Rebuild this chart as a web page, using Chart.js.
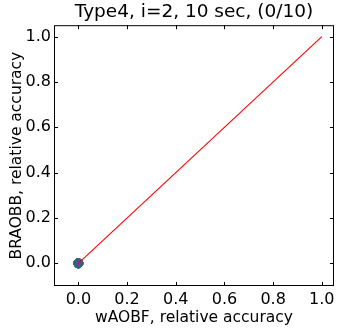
<!DOCTYPE html>
<html>
<head>
<meta charset="utf-8">
<script src="https://cdn.jsdelivr.net/npm/chart.js@4/dist/chart.umd.min.js"></script>
<style>
  html, body { margin: 0; padding: 0; background: #fff; }
  #wrap { width: 340px; height: 329px; }
</style>
</head>
<body>
<div id="wrap"><canvas id="c" width="340" height="329"></canvas></div>
<script>
// data
const TITLE = "Type4, i=2, 10 sec, (0/10)";
const X_LABEL = "wAOBF, relative accuracy";
const Y_LABEL = "BRAOBB, relative accuracy";
const TICKS = [0.0, 0.2, 0.4, 0.6, 0.8, 1.0];
// the ten runs all land on (0, 0)
const wAOBF = [0, 0, 0, 0, 0, 0, 0, 0, 0, 0];
const BRAOBB = [0, 0, 0, 0, 0, 0, 0, 0, 0, 0];
const RUN_COLORS = ["#8e2d8e", "#c0304a", "#3b3bb0", "#2a9d3a", "#1f4e9e",
                    "#d62728", "#7b3fa0", "#1a6e8e", "#0f8a5f", "#127a70"];
const DIAG_X = [0, 1];
const DIAG_Y = [0, 1];

(function () {
  "use strict";

  const FONT = "'DejaVu Sans', sans-serif";

  // matplotlib-style box: border round the plot and ticks pointing inward
  const boxPlugin = {
    id: "box",
    afterDatasetsDraw(chart) {
      const { ctx, chartArea: a, scales } = chart;
      ctx.save();
      ctx.strokeStyle = "#000";
      ctx.lineWidth = 1;
      ctx.strokeRect(a.left + 0.5, a.top + 0.5, a.right - a.left - 1, a.bottom - a.top - 1);
      const len = 4;
      ctx.beginPath();
      TICKS.forEach((v) => {
        const px = Math.round(scales.x.getPixelForValue(v)) + 0.5;
        ctx.moveTo(px, a.bottom); ctx.lineTo(px, a.bottom - len);
        ctx.moveTo(px, a.top); ctx.lineTo(px, a.top + len);
        const py = Math.round(scales.y.getPixelForValue(v)) + 0.5;
        ctx.moveTo(a.left, py); ctx.lineTo(a.left + len, py);
        ctx.moveTo(a.right, py); ctx.lineTo(a.right - len, py);
      });
      ctx.stroke();
      ctx.restore();
    },
  };

  const runPoints = wAOBF.map((x, i) => ({ x: x, y: BRAOBB[i] }));

  new Chart(document.getElementById("c"), {
    type: "scatter",
    data: {
      datasets: [
        {
          label: "diag",
          data: DIAG_X.map((x, i) => ({ x: x, y: DIAG_Y[i] })),
          showLine: true,
          borderColor: "#ff0000",
          borderWidth: 1.1,
          pointRadius: 0,
          order: 0,
        },
        {
          label: "runs",
          data: runPoints,
          pointStyle: "circle",
          pointRadius: 4.5,
          backgroundColor: "#17707a",
          pointBorderColor: RUN_COLORS,
          borderWidth: 1,
          order: 2,
        },
        {
          label: "runs-star",
          data: runPoints.slice(0, 3),
          pointStyle: "star",
          pointRadius: 4,
          pointBorderColor: ["#d62728", "#1f4e9e", "#7b3fa0"],
          borderWidth: 1,
          order: 1,
        },
      ],
    },
    options: {
      responsive: false,
      animation: false,
      devicePixelRatio: 1,
      layout: { padding: { left: 0, right: 6, top: 0, bottom: 0 } },
      plugins: {
        legend: { display: false },
        tooltip: { enabled: false },
        title: {
          display: true,
          text: TITLE,
          fullSize: false,
          color: "#000",
          font: { family: FONT, size: 18.5, weight: "normal" },
          padding: { top: 1, bottom: 2 },
        },
      },
      scales: {
        x: {
          type: "linear",
          min: -0.1,
          max: 1.05,
          afterBuildTicks: (s) => { s.ticks = TICKS.map((v) => ({ value: v })); },
          afterFit: (s) => { s.height = 43; },
          grid: { display: false, drawTicks: false },
          border: { display: false },
          ticks: {
            color: "#000",
            padding: 4,
            maxRotation: 0,
            font: { family: FONT, size: 16 },
            callback: (v) => Number(v).toFixed(1),
          },
          title: {
            display: true,
            text: X_LABEL,
            color: "#000",
            font: { family: FONT, size: 15.5 },
            padding: { top: 0, bottom: 2 },
          },
        },
        y: {
          type: "linear",
          min: -0.1,
          max: 1.05,
          afterBuildTicks: (s) => { s.ticks = TICKS.map((v) => ({ value: v })); },
          afterFit: (s) => { s.width = 54; },
          grid: { display: false, drawTicks: false },
          border: { display: false },
          ticks: {
            color: "#000",
            padding: 3,
            font: { family: FONT, size: 16 },
            callback: (v) => Number(v).toFixed(1),
          },
          title: {
            display: true,
            text: Y_LABEL,
            color: "#000",
            font: { family: FONT, size: 15.5 },
            padding: { top: 8, bottom: 0 },
          },
        },
      },
    },
    plugins: [boxPlugin],
  });
})();
</script>
</body>
</html>
